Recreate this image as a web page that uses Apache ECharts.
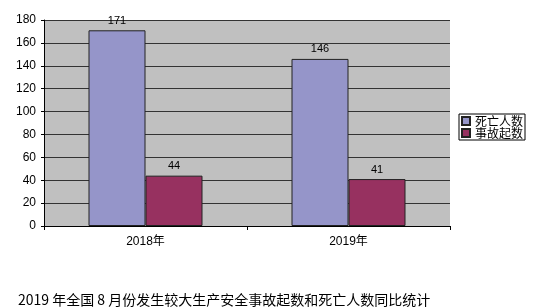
<!DOCTYPE html>
<html><head><meta charset="utf-8">
<script src="https://cdn.jsdelivr.net/npm/echarts@6/dist/echarts.min.js"></script>
<style>html,body{margin:0;padding:0;background:#fff}#c{width:553px;height:307px}</style>
</head><body><div id="c"></div>
<script>
const categories = ['2018年', '2019年'];
const deaths = [171, 146];
const accidents = [44, 41];
const seriesNames = ['死亡人数', '事故起数'];
const titleText = '2019 年全国 8 月份发生较大生产安全事故起数和死亡人数同比统计';

const font = '"Liberation Sans", "Noto Sans CJK SC", sans-serif';
const chart = echarts.init(document.getElementById('c'));
chart.setOption({
  animation: false,
  backgroundColor: '#fff',
  title: {
    text: titleText, left: 13, top: 288,
    textStyle: {fontFamily: '"Noto Sans CJK SC", serif', fontSize: 14, fontWeight: 'normal', color: '#000'}
  },
  legend: {
    orient: 'vertical', left: 459, top: 114,
    data: seriesNames, itemWidth: 8, itemHeight: 8, itemGap: 0,
    icon: 'rect', backgroundColor: '#fff', borderColor: '#000', borderWidth: 1,
    padding: [1, 2, 1, 2],
    textStyle: {fontFamily: '"Noto Sans CJK SC"', fontSize: 12, lineHeight: 12, color: '#000'}
  },
  grid: {left: 44, right: 103, top: 20, bottom: 81, show: true, backgroundColor: '#c0c0c0', borderWidth: 0},
  xAxis: {
    type: 'category', data: categories,
    axisLine: {lineStyle: {color: '#000'}},
    axisTick: {show: true, alignWithLabel: false, length: 4, lineStyle: {color: '#000'}},
    axisLabel: {fontFamily: font, fontSize: 12, color: '#000', margin: 10}
  },
  yAxis: {
    type: 'value', min: 0, max: 180, interval: 20,
    axisLine: {show: true, lineStyle: {color: '#000'}},
    axisTick: {show: true, length: 3, inside: false, lineStyle: {color: '#000'}},
    axisLabel: {fontFamily: font, fontSize: 12, color: '#000', margin: 8},
    splitLine: {lineStyle: {color: '#333', width: 1}}
  },
  series: [
    {name: seriesNames[0], type: 'bar', data: deaths, barWidth: 57, barGap: '0%',
     itemStyle: {color: '#9595c9', borderColor: '#222', borderWidth: 1},
     label: {show: true, position: 'top', distance: 4, fontFamily: font, fontSize: 11, color: '#000'}},
    {name: seriesNames[1], type: 'bar', data: accidents, barWidth: 57, barGap: '0%',
     itemStyle: {color: '#973160', borderColor: '#222', borderWidth: 1},
     label: {show: true, position: 'top', distance: 4, fontFamily: font, fontSize: 11, color: '#000'}}
  ]
});
</script></body></html>
